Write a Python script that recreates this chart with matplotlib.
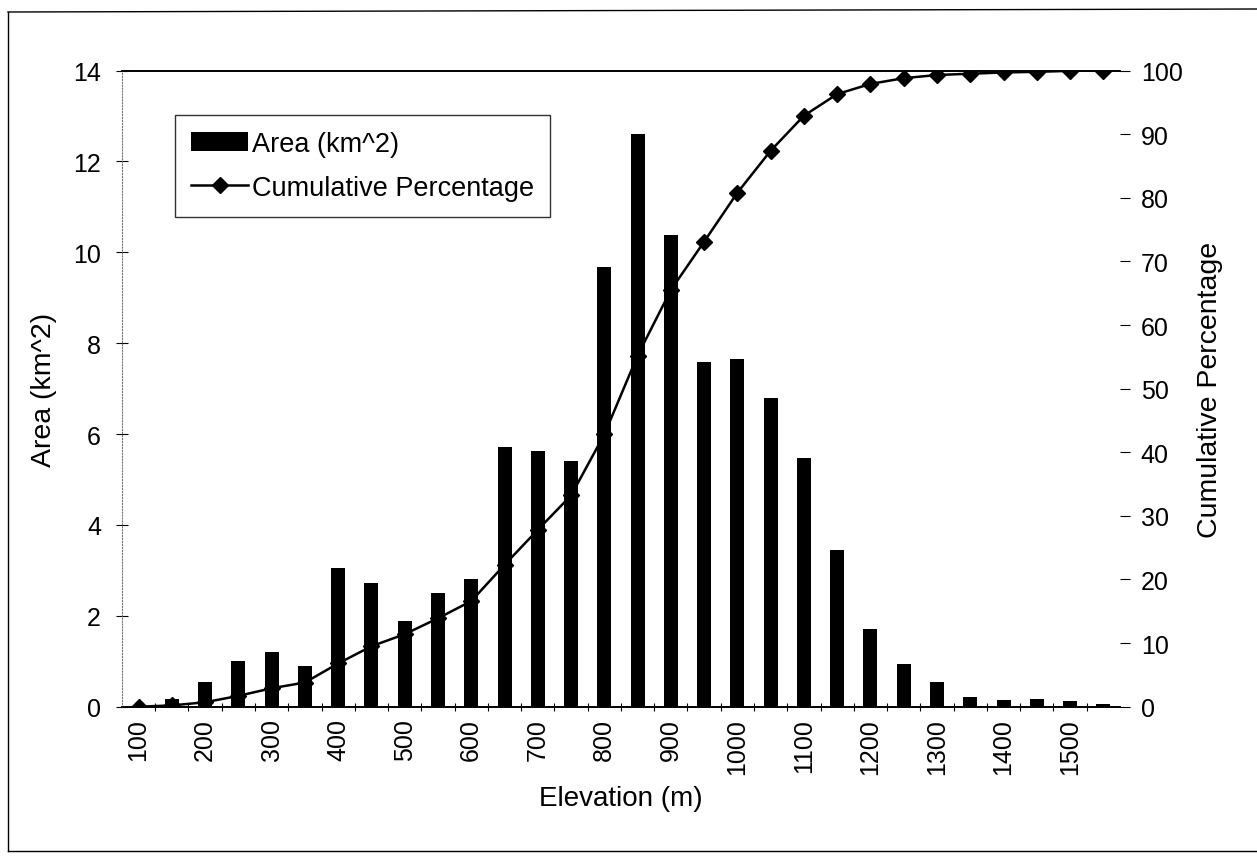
import matplotlib
matplotlib.use("Agg")
import matplotlib.pyplot as plt
from matplotlib.lines import Line2D
import numpy as np

plt.rcParams["font.family"] = ["Liberation Sans", "DejaVu Sans"]

# elevation classes (m), area per class and cumulative percentage
elevation = [100, 150, 200, 250, 300, 350, 400, 450, 500, 550,
             600, 650, 700, 750, 800, 850, 900, 950, 1000, 1050,
             1100, 1150, 1200, 1250, 1300, 1350, 1400, 1450, 1500, 1550]
area_km2 = [0.02, 0.18, 0.55, 1.0, 1.2, 0.9, 3.05, 2.72, 1.88, 2.5,
            2.8, 5.72, 5.63, 5.4, 9.68, 12.6, 10.38, 7.58, 7.65, 6.8,
            5.48, 3.45, 1.7, 0.95, 0.55, 0.22, 0.15, 0.17, 0.12, 0.06]
cum_pct = [0.0, 0.2, 0.7, 1.7, 2.9, 3.8, 6.8, 9.5, 11.4, 13.9,
           16.6, 22.3, 27.8, 33.2, 42.8, 55.2, 65.5, 73.1, 80.8, 87.4,
           92.9, 96.3, 97.9, 98.8, 99.3, 99.5, 99.7, 99.8, 99.95, 100.0]

x = np.arange(len(elevation))
tick_labels = [str(e) if e % 100 == 0 else "" for e in elevation]

fig = plt.figure(figsize=(12.57, 8.62), dpi=100)
ax = fig.add_axes([0.097, 0.179, 0.794, 0.738])
ax2 = ax.twinx()

ax2.plot(x, cum_pct, color="black", lw=1.8, marker="D", markersize=8.5,
         label="Cumulative Percentage", zorder=2)
ax.bar(x, area_km2, width=0.42, color="black", label="Area (km^2)", zorder=3)

ax.set_xlim(-0.5, len(x) - 0.5)
ax.set_ylim(0, 14)
ax2.set_ylim(0, 100)
ax.set_zorder(ax2.get_zorder() + 1)
ax.patch.set_visible(False)

ax.set_yticks(np.arange(0, 15, 2))
ax2.set_yticks(np.arange(0, 101, 10))
ax.set_xticks(x)
ax.set_xticklabels(tick_labels, rotation=90, fontsize=18)
ax.set_xticks(x[:-1] + 0.5, minor=True)
ax.tick_params(axis="x", which="major", length=0, pad=8)
ax.tick_params(axis="x", which="minor", length=6, direction="inout", width=0.8)
ax.tick_params(axis="y", labelsize=18, length=8, direction="inout", width=0.8, pad=11)
ax2.tick_params(axis="y", labelsize=18, length=7, direction="out", width=0.8, pad=8)

for a in (ax, ax2):
    a.spines["right"].set_visible(False)
    a.spines["left"].set_visible(False)
    a.spines["top"].set_linewidth(1.2)
    a.spines["bottom"].set_linewidth(1.2)
ax.spines["left"].set_visible(True)
ax.spines["left"].set_linestyle(":")
ax.spines["left"].set_color("0.45")
ax.spines["left"].set_linewidth(0.8)

ax.set_xlabel("Elevation (m)", fontsize=20, labelpad=8)
ax.set_ylabel("Area (km^2)", fontsize=20.5, labelpad=12)
ax2.set_ylabel("Cumulative Percentage", fontsize=20.5, labelpad=10)

h1, l1 = ax.get_legend_handles_labels()
h2, l2 = ax2.get_legend_handles_labels()
leg = ax.legend(h1 + h2, l1 + l2, loc="upper left", bbox_to_anchor=(0.053, 0.93),
                fontsize=19.5, frameon=True, fancybox=False, borderpad=0.6,
                labelspacing=0.65, handlelength=2.1, handletextpad=0.15,
                borderaxespad=0)
leg.get_frame().set_edgecolor("black")
leg.get_frame().set_linewidth(1.0)

# outer chart border
W, H = 1257, 862
for (x0, y0, x1, y1) in [(8, 13, 1257, 10), (8, 13, 8, 852), (8, 852, 1257, 852)]:
    fig.add_artist(Line2D([x0 / W, x1 / W], [1 - y0 / H, 1 - y1 / H],
                          color="black", lw=1.0, transform=fig.transFigure))

fig.savefig("out.png", dpi=100)
